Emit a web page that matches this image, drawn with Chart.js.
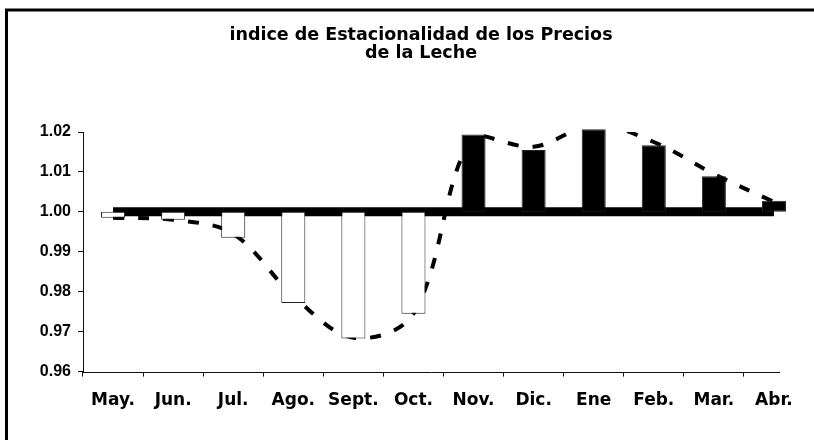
<!DOCTYPE html>
<html lang="es">
<head>
  <meta charset="UTF-8" />
  <title>Indice de Estacionalidad de los Precios de la Leche</title>
  <script src="https://cdn.jsdelivr.net/npm/chart.js"></script>
  <style>
    html, body { margin: 0; padding: 0; background: #fff; }
    #wrap { width: 814px; height: 440px; }
  </style>
</head>
<body>
  <div id="wrap">
    <canvas id="lecheChart" width="814" height="440"></canvas>
  </div>

  <script>
  const meses = ["May.", "Jun.", "Jul.", "Ago.", "Sept.", "Oct.", "Nov.", "Dic.", "Ene", "Feb.", "Mar.", "Abr."];
  // indice estacional por mes (barras)
  const indice = [0.9985, 0.9980, 0.9935, 0.9772, 0.9683, 0.9745, 1.0194, 1.0155, 1.0207, 1.0167, 1.0089, 1.0028];
  // curva punteada
  const tendencia = [0.9985, 0.9980, 0.9945, 0.9790, 0.9685, 0.9745, 1.0190, 1.0163, 1.0218, 1.0175, 1.0095, 1.0025];
  // linea base
  const base = [1, 1, 1, 1, 1, 1, 1, 1, 1, 1, 1, 1];
  const yTicks = [0.96, 0.97, 0.98, 0.99, 1.00, 1.01, 1.02];

  const labelFont = "'DejaVu Sans', Verdana, sans-serif";
  const tickFont = "'Liberation Sans', Arial, sans-serif";

  // fondo, marco y eje x (el eje termina antes del borde derecho)
  const framePlugin = {
    id: "frame",
    beforeDraw(chart) {
      const ctx = chart.ctx;
      ctx.save();
      ctx.fillStyle = "#fff";
      ctx.fillRect(0, 0, chart.width, chart.height);
      ctx.restore();
    },
    afterDraw(chart) {
      const ctx = chart.ctx;
      const x = chart.scales.x;
      const area = chart.chartArea;
      ctx.save();
      ctx.strokeStyle = "#111";
      ctx.lineWidth = 1;
      ctx.beginPath();
      ctx.moveTo(area.left, Math.round(area.bottom) + 0.5);
      ctx.lineTo(x.getPixelForValue(meses.length - 1) + 6, Math.round(area.bottom) + 0.5);
      ctx.stroke();

      ctx.lineWidth = 3;
      ctx.strokeStyle = "#000";
      ctx.beginPath();
      ctx.moveTo(6.5, chart.height);
      ctx.lineTo(6.5, 10);
      ctx.lineTo(chart.width, 10);
      ctx.stroke();
      ctx.restore();
    }
  };

  new Chart(document.getElementById("lecheChart"), {
    type: "bar",
    data: {
      labels: meses,
      datasets: [
        {
          type: "bar",
          label: "Indice",
          data: indice.map(v => [1, v]),
          backgroundColor: indice.map(v => v < 1 ? "#fff" : "#000"),
          borderColor: "#222",
          borderWidth: 1,
          borderSkipped: false,
          categoryPercentage: 0.8,
          barPercentage: 0.5,
          clip: false,
          order: 0
        },
        {
          type: "line",
          label: "Tendencia",
          data: tendencia,
          borderColor: "#000",
          borderWidth: 4,
          borderDash: [11, 14],
          pointRadius: 0,
          tension: 0.35,
          fill: false,
          order: 1
        },
        {
          type: "line",
          label: "Base",
          data: base,
          borderColor: "#000",
          borderWidth: 9,
          pointRadius: 0,
          fill: false,
          order: 2
        }
      ]
    },
    options: {
      responsive: false,
      animation: false,
      layout: { padding: { left: 38, right: 10, top: 0, bottom: 15 } },
      plugins: {
        legend: { display: false },
        tooltip: { enabled: false },
        title: {
          display: true,
          text: ["indice de Estacionalidad de los Precios", "de la Leche"],
          color: "#000",
          font: { family: labelFont, size: 17.5, weight: "bold", lineHeight: 1.0 },
          padding: { top: 27, bottom: 70 }
        }
      },
      scales: {
        x: {
          grid: {
            display: true,
            drawOnChartArea: false,
            drawTicks: true,
            tickLength: 5,
            color: ctx => ctx.type === "tick" ? "#111" : "rgba(0,0,0,0)"
          },
          border: { display: false },
          ticks: {
            color: "#000",
            padding: 14,
            maxRotation: 0,
            font: { family: labelFont, size: 17, weight: "bold" }
          }
        },
        y: {
          min: 0.96,
          max: 1.02,
          afterFit: scale => { scale.width = 45; },
          afterBuildTicks: scale => { scale.ticks = yTicks.map(v => ({ value: v })); },
          grid: {
            drawOnChartArea: false,
            drawTicks: true,
            tickLength: 5,
            color: "#111"
          },
          border: { display: true, color: "#111", width: 1 },
          ticks: {
            color: "#000",
            padding: 7,
            font: { family: tickFont, size: 16, weight: "bold" },
            callback: v => Number(v).toFixed(2)
          }
        }
      }
    },
    plugins: [framePlugin]
  });
  </script>
</body>
</html>
